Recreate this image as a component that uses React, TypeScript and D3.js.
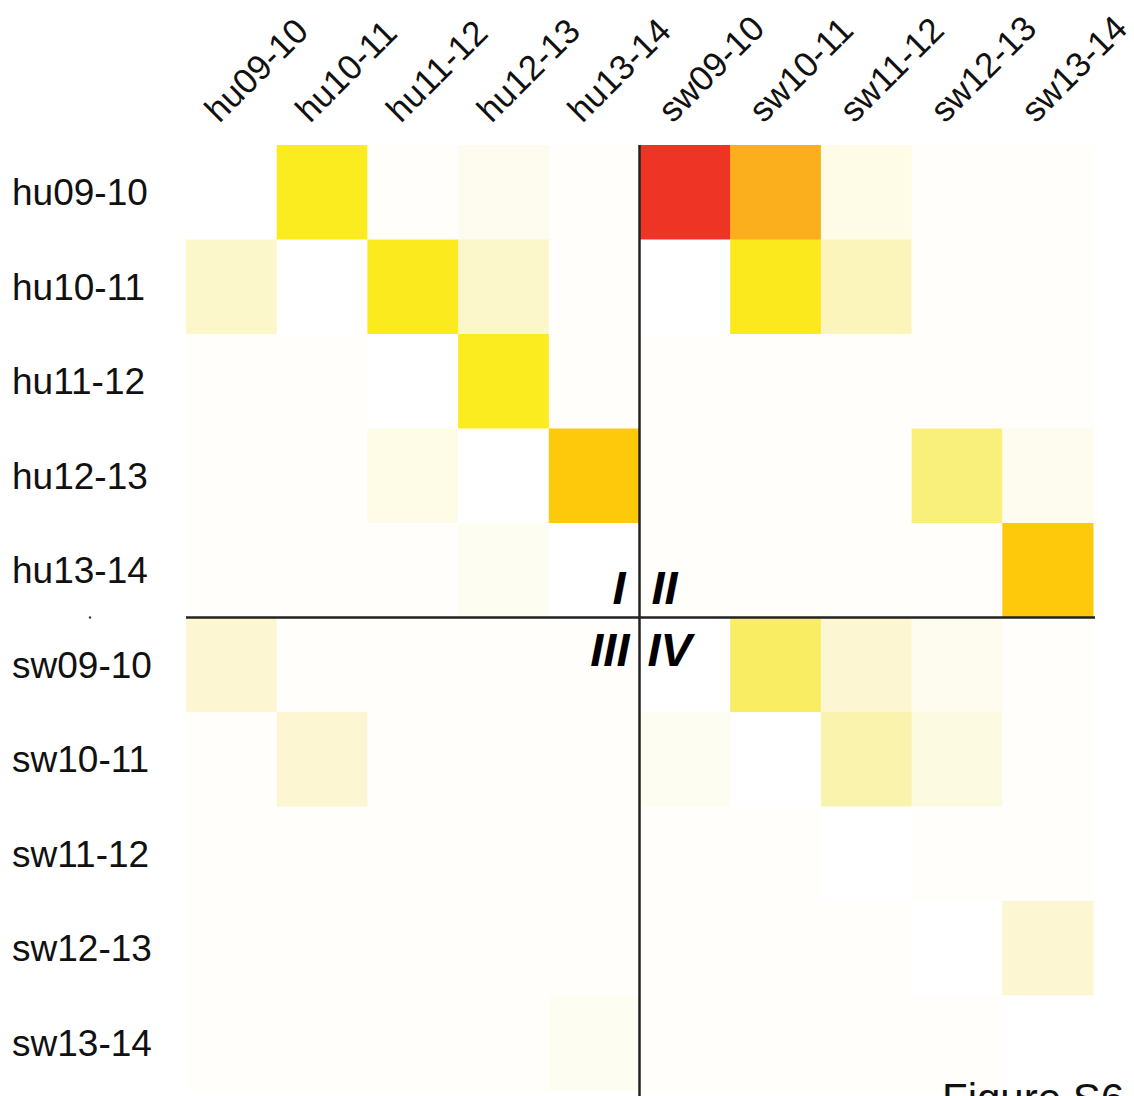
import React, { useEffect, useRef } from "react";
import * as d3 from "d3";

const rowLabels = ["hu09-10", "hu10-11", "hu11-12", "hu12-13", "hu13-14", "sw09-10", "sw10-11", "sw11-12", "sw12-13", "sw13-14"];
const colLabels = ["hu09-10", "hu10-11", "hu11-12", "hu12-13", "hu13-14", "sw09-10", "sw10-11", "sw11-12", "sw12-13", "sw13-14"];

// null = diagonal (white)
const rowHu0910 = [null, 0.5, 0.0, 0.03, 0.0, 1.0, 0.8, 0.05, 0.0, 0.0];
const rowHu1011 = [0.12, null, 0.51, 0.12, 0.0, -1, 0.52, 0.16, 0.0, 0.0];
const rowHu1112 = [0.0, 0.0, null, 0.5, 0.0, 0.0, 0.0, 0.0, 0.0, 0.0];
const rowHu1213 = [0.0, 0.0, 0.05, null, 0.7, 0.0, 0.0, 0.0, 0.33, 0.03];
const rowHu1314 = [0.0, 0.0, 0.0, 0.02, null, 0.0, 0.0, 0.0, 0.0, 0.7];
const rowSw0910 = [0.1, 0.0, 0.0, 0.0, 0.0, null, 0.38, 0.1, 0.03, 0.0];
const rowSw1011 = [0.0, 0.1, 0.0, 0.0, 0.0, 0.02, null, 0.2, 0.06, 0.0];
const rowSw1112 = [0.0, 0.0, 0.0, 0.0, 0.0, 0.0, 0.0, null, 0.0, 0.0];
const rowSw1213 = [0.0, 0.0, 0.0, 0.0, 0.0, 0.0, 0.0, 0.0, null, 0.1];
const rowSw1314 = [0.0, 0.0, 0.0, 0.0, 0.02, 0.0, 0.0, 0.0, 0.0, null];

const matrix = [rowHu0910, rowHu1011, rowHu1112, rowHu1213, rowHu1314, rowSw0910, rowSw1011, rowSw1112, rowSw1213, rowSw1314];

const colorStops = [-1, 0, 0.1, 0.2, 0.35, 0.5, 0.7, 0.8, 1];
const colorRange = ["#ffffff", "#fffefa", "#fcf7d2", "#faf3ae", "#f9ef74", "#fbec1f", "#fec90a", "#fcaf1c", "#ee3424"];

const quadrantLabels = ["I", "II", "III", "IV"];

export default function App() {
  const ref = useRef<SVGSVGElement>(null);

  useEffect(() => {
    document.body.style.margin = "0";
    const svg = d3.select(ref.current);
    svg.selectAll("*").remove();

    const left = 186, right = 1093, top = 145, bottom = 1090;
    const x = d3.scaleBand<string>().domain(colLabels).range([left, right]).padding(0);
    const y = d3.scaleBand<string>().domain(rowLabels).range([top, bottom]).padding(0);
    const color = d3.scaleLinear<string>().domain(colorStops).range(colorRange).interpolate(d3.interpolateRgb).clamp(true);

    const cells: { r: string; c: string; v: number | null }[] = [];
    matrix.forEach((row, i) => row.forEach((v, j) => cells.push({ r: rowLabels[i], c: colLabels[j], v })));

    svg.append("g").selectAll("rect").data(cells).join("rect")
      .attr("x", d => x(d.c)!)
      .attr("y", d => y(d.r)!)
      .attr("width", x.bandwidth() + 0.5)
      .attr("height", y.bandwidth() + 0.5)
      .attr("fill", d => d.v === null ? "#ffffff" : color(d.v));

    const font = "Liberation Sans, Arial, sans-serif";

    // row labels
    svg.append("g").selectAll("text").data(rowLabels).join("text")
      .attr("x", 12)
      .attr("y", d => y(d)! + y.bandwidth() / 2 + 13)
      .attr("font-family", font)
      .attr("font-size", 37)
      .attr("fill", "#111")
      .text(d => d);

    // column labels
    svg.append("g").selectAll("text").data(colLabels).join("text")
      .attr("transform", d => `translate(${x(d)! + x.bandwidth() / 2 - 12},124) rotate(-45)`)
      .attr("font-family", font)
      .attr("font-size", 35)
      .attr("fill", "#111")
      .text(d => d);

    // divider lines
    const midX = x("sw09-10")!;
    const midY = y("sw09-10")!;
    svg.append("line").attr("x1", midX).attr("x2", midX).attr("y1", top).attr("y2", 1096)
      .attr("stroke", "#222").attr("stroke-width", 2.5);
    svg.append("line").attr("x1", left).attr("x2", right + 2).attr("y1", midY).attr("y2", midY)
      .attr("stroke", "#222").attr("stroke-width", 2.5);

    // quadrant labels
    const q = svg.append("g").attr("font-family", font).attr("font-size", 47)
      .attr("font-weight", "bold").attr("font-style", "italic").attr("fill", "#000");
    q.append("text").attr("x", midX - 14).attr("y", midY - 14).attr("text-anchor", "end").text(quadrantLabels[0]);
    q.append("text").attr("x", midX + 12).attr("y", midY - 14).attr("text-anchor", "start").text(quadrantLabels[1]);
    q.append("text").attr("x", midX - 10).attr("y", midY + 48).attr("text-anchor", "end").text(quadrantLabels[2]);
    q.append("text").attr("x", midX + 8).attr("y", midY + 48).attr("text-anchor", "start").text(quadrantLabels[3]);

    // small dot
    svg.append("circle").attr("cx", 90).attr("cy", midY).attr("r", 1.2).attr("fill", "#333");

    // caption, cut off at bottom as in the source
    svg.append("text").attr("x", 942).attr("y", 1113)
      .attr("font-family", font).attr("font-size", 42).attr("fill", "#111")
      .text("Figure S6");
  }, []);

  return <svg ref={ref} width={1134} height={1096} style={{ display: "block", background: "#fff" }} />;
}
